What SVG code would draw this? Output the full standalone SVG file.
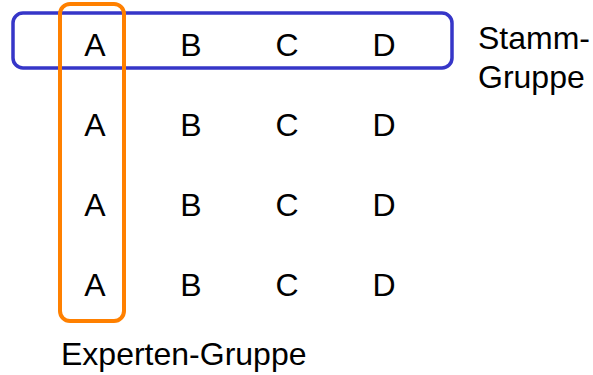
<svg xmlns="http://www.w3.org/2000/svg" width="593" height="375" viewBox="0 0 593 375">
<style>
text{font-family:"Liberation Sans",Arial,sans-serif;font-size:32px;fill:#000}
.c{text-anchor:middle}
.blue{fill:none;stroke:#3636c8;stroke-width:3.5}
.orange{fill:none;stroke:#ff8000;stroke-width:4}
</style>
<rect width="593" height="375" fill="#fff"/>
<g id="stamm-gruppe">
<rect class="blue" x="13" y="13" width="439" height="55" rx="10"/>
</g>
<g id="experten-gruppe">
<rect class="orange" x="60" y="4" width="64" height="317" rx="10"/>
</g>
<g id="cells">
<text class="c" x="95" y="56">A</text><text class="c" x="191" y="56">B</text><text class="c" x="287" y="56">C</text><text class="c" x="384" y="56">D</text>
<text class="c" x="95" y="136">A</text><text class="c" x="191" y="136">B</text><text class="c" x="287" y="136">C</text><text class="c" x="384" y="136">D</text>
<text class="c" x="95" y="216">A</text><text class="c" x="191" y="216">B</text><text class="c" x="287" y="216">C</text><text class="c" x="384" y="216">D</text>
<text class="c" x="95" y="296">A</text><text class="c" x="191" y="296">B</text><text class="c" x="287" y="296">C</text><text class="c" x="384" y="296">D</text>
</g>
<g id="labels">
<text x="478" y="49">Stamm-</text>
<text x="478" y="88">Gruppe</text>
<text x="61" y="365">Experten-Gruppe</text>
</g>
<g id="connectors"></g>
</svg>
